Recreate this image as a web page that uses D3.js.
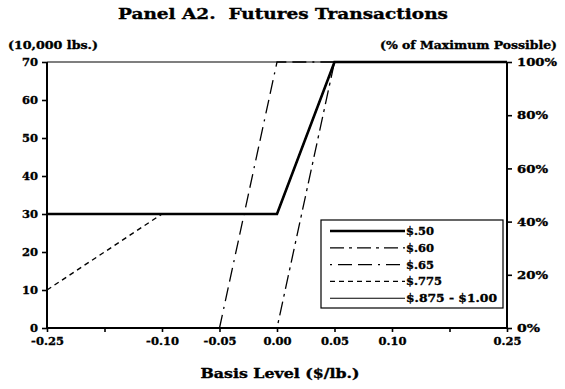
<!DOCTYPE html>
<html>
<head>
<meta charset="utf-8">
<script src="https://cdn.jsdelivr.net/npm/d3@7/dist/d3.min.js"></script>
<style>
  body { margin: 0; background: #fff; }
  svg text { font-family: "DejaVu Serif", serif; font-weight: bold; fill: #000; stroke: #000; stroke-width: 0.35px; white-space: pre; }
</style>
</head>
<body>
<svg id="chart" width="565" height="389"></svg>
<script>
// Basis levels on the category axis ($/lb.)
const categories = ["-0.25", "-0.15", "-0.10", "-0.05", "0.00", "0.05", "0.10", "0.20", "0.25"];
const tickLabels = ["-0.25", "", "-0.10", "-0.05", "0.00", "0.05", "0.10", "", "0.25"];

// Futures transactions (10,000 lbs.) for each price level
const s050 = [30, 30, 30, 30, 30, 70, 70, 70, 70];
const s060 = [0, 0, 0, 0, 0, 70, 70, 70, 70];
const s065 = [0, 0, 0, 0, 70, 70, 70, 70, 70];
const s0775 = [10, 20, 30, 30, 30, 70, 70, 70, 70];
const s0875 = [70, 70, 70, 70, 70, 70, 70, 70, 70];

const seriesNames = ["$.50", "$.60", "$.65", "$.775", "$.875 - $1.00"];
const seriesValues = [s050, s060, s065, s0775, s0875];

const leftTicks = [0, 10, 20, 30, 40, 50, 60, 70];
const rightTicks = [0, 20, 40, 60, 80, 100];

const styles = [
  { w: 2.6, dash: null },
  { w: 1.3, dash: "14,5,3,5" },
  { w: 1.3, dash: "2,6,14,6,14,6" },
  { w: 1.4, dash: "5,4" },
  { w: 1.1, dash: null }
];

const svg = d3.select("#chart");
const m = { left: 47, right: 507, top: 62, bottom: 328 };

const x = d3.scalePoint().domain(categories).range([m.left, m.right]);
const y = d3.scaleLinear().domain([0, 70]).range([m.bottom, m.top]);
const yR = d3.scaleLinear().domain([0, 100]).range([m.bottom, m.top]);

function label(tx, ty, txt, size, len, anchor) {
  const t = svg.append("text").attr("x", tx).attr("y", ty)
    .attr("text-anchor", anchor || "start").style("font-size", size + "px").text(txt);
  if (len) t.attr("textLength", len).attr("lengthAdjust", "spacingAndGlyphs");
  return t;
}

// Title and axis headings
label(283, 19, "Panel A2.  Futures Transactions", 15, 330, "middle");
label(8, 49, "(10,000 lbs.)", 11, 90);
label(557, 49, "(% of Maximum Possible)", 11, 177, "end");

// Left axis
const gL = svg.append("g").attr("transform", `translate(${m.left},0)`)
  .call(d3.axisLeft(y).tickValues(leftTicks).tickSize(5).tickPadding(4).tickFormat(d3.format("d")));
// Right axis
const gR = svg.append("g").attr("transform", `translate(${m.right},0)`)
  .call(d3.axisRight(yR).tickValues(rightTicks).tickSize(5).tickPadding(5).tickFormat(d => d + "%"));
// Bottom axis
const gB = svg.append("g").attr("transform", `translate(0,${m.bottom})`)
  .call(d3.axisBottom(x).tickSize(4).tickPadding(5).tickFormat((d, i) => tickLabels[i]));

[gL, gR, gB].forEach(g => {
  g.select(".domain").attr("stroke", "#000").attr("stroke-width", 2);
  g.selectAll(".tick line").attr("stroke", "#000").attr("stroke-width", 1.6);
  g.selectAll("text").style("font-size", "11.5px").style("font-family", "'DejaVu Serif', serif")
    .style("font-weight", "bold").attr("fill", "#000");
});
gR.selectAll(".tick text")
  .attr("textLength", d => d === 100 ? 40 : d === 0 ? 23 : 31)
  .attr("lengthAdjust", "spacingAndGlyphs");
gB.select(".domain").attr("d", `M${m.left},0H${m.right}`);
gL.select(".domain").attr("d", `M0,${m.bottom}V${m.top}`);
gR.select(".domain").attr("d", `M0,${m.bottom}V${m.top}`);

label(280, 378, "Basis Level ($/lb.)", 12.5, 159, "middle");

// Series lines
const line = d3.line().x((d, i) => x(categories[i])).y(d => y(d));
seriesValues.forEach((vals, k) => {
  svg.append("path").datum(vals).attr("d", line)
    .attr("fill", "none").attr("stroke", "#000")
    .attr("stroke-width", styles[k].w)
    .attr("stroke-dasharray", styles[k].dash);
});

// Legend
const lg = svg.append("g");
lg.append("rect").attr("x", 321).attr("y", 220).attr("width", 182).attr("height", 88)
  .attr("fill", "#fff").attr("stroke", "#000").attr("stroke-width", 1.2);
seriesNames.forEach((name, k) => {
  const yy = 231 + k * 16.8;
  lg.append("line").attr("x1", 330).attr("x2", 405).attr("y1", yy).attr("y2", yy)
    .attr("stroke", "#000").attr("stroke-width", styles[k].w)
    .attr("stroke-dasharray", styles[k].dash);
  const t = lg.append("text").attr("x", 406).attr("y", yy + 4).style("font-size", "11.5px").text(name);
  if (k === 4) t.attr("textLength", 91).attr("lengthAdjust", "spacingAndGlyphs");
});
</script>
</body>
</html>
